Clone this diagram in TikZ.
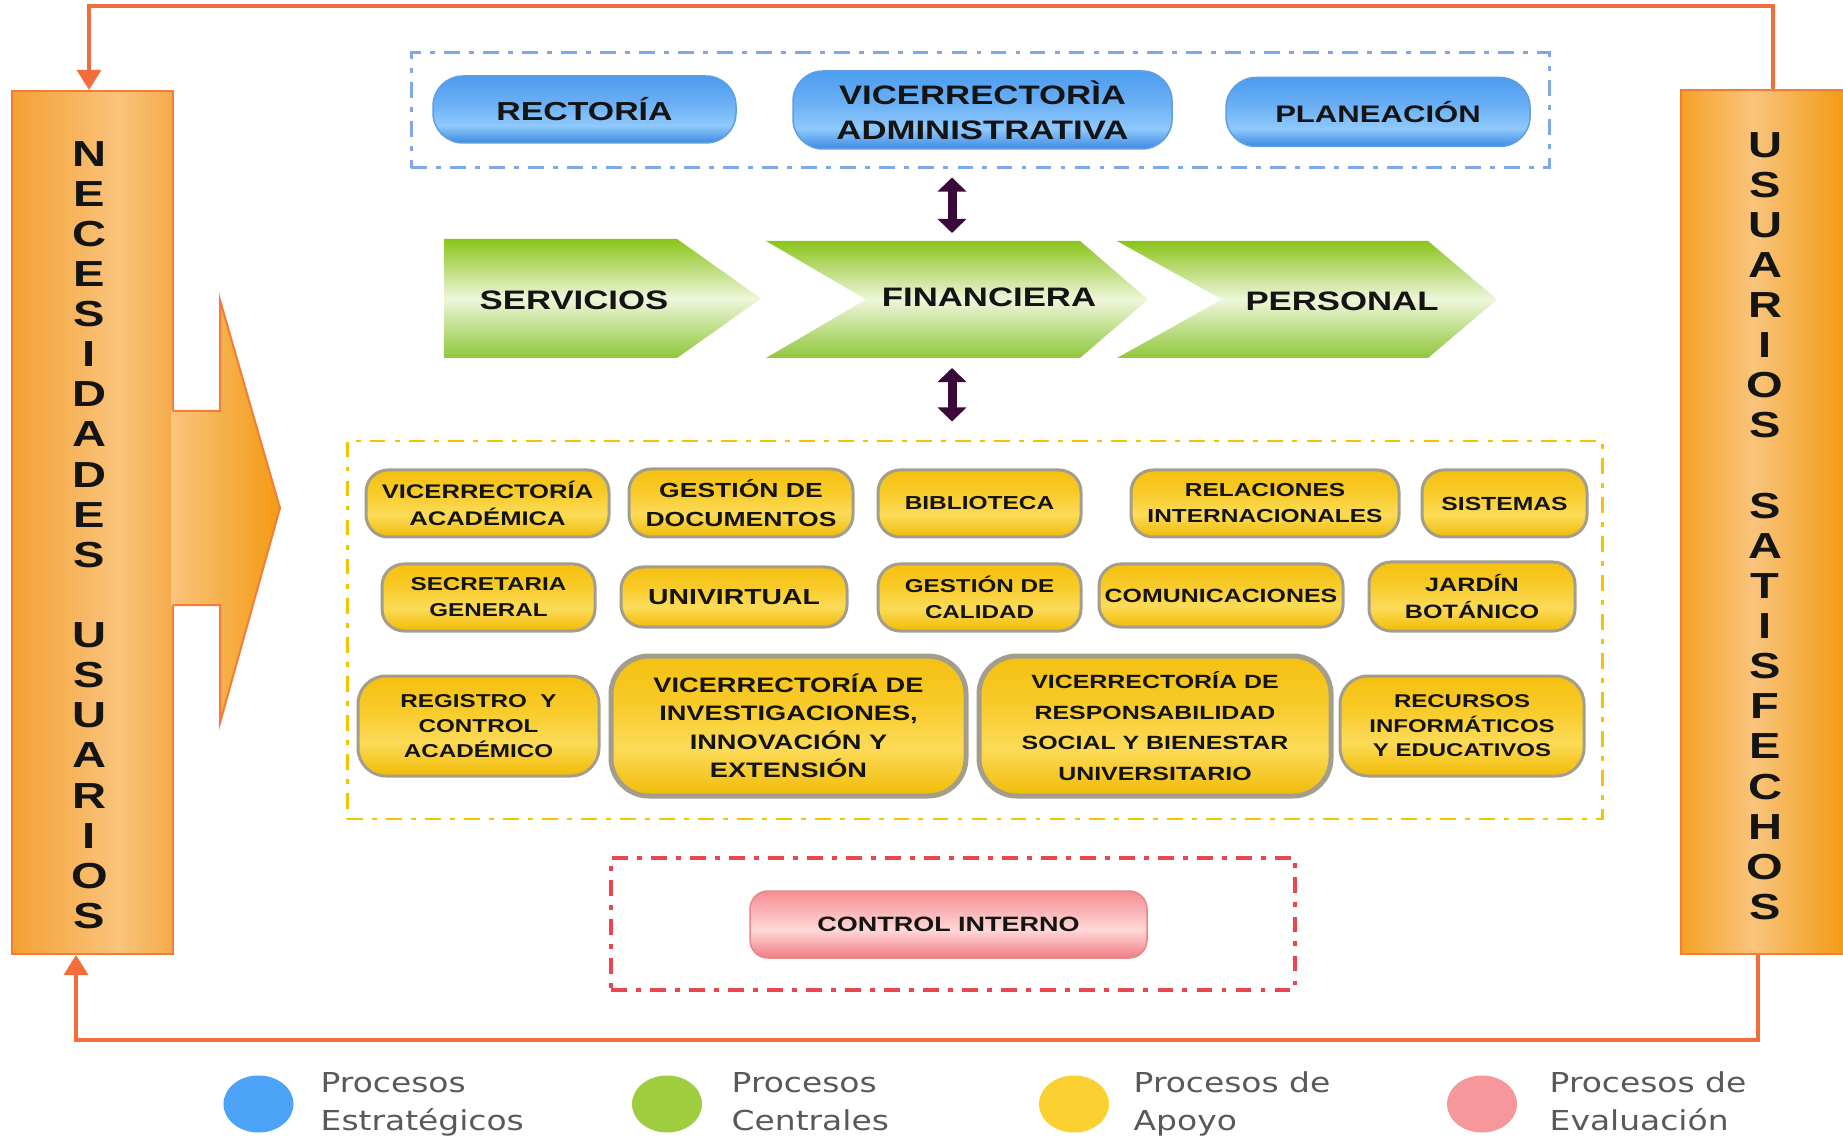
\documentclass[tikz,border=0pt]{standalone}
\usepackage{fontspec}
\setmainfont{Liberation Sans}
\newfontfamily\wf[FakeStretch=1.3]{Liberation Sans}
\newfontfamily\lf[FakeStretch=1.2]{DejaVu Sans}
\usetikzlibrary{arrows.meta,shapes.geometric}
\newlength\pxu \setlength\pxu{0.01cm}
\newcommand\setfs[2]{\fontsize{#1pt}{#2pt}\selectfont}
% colours
\definecolor{txt}{HTML}{141414}
\definecolor{orline}{HTML}{F26C3C}
\definecolor{purp}{HTML}{3A0B3A}
\definecolor{oA}{HTML}{F4A033}
\definecolor{oB}{HTML}{F9C47C}
\definecolor{oC}{HTML}{F5AA48}
\definecolor{rA}{HTML}{F5A226}
\definecolor{rB}{HTML}{F8C47C}
\definecolor{rC}{HTML}{F39A12}
\definecolor{bB}{HTML}{3C89E2}
\definecolor{bL}{HTML}{8FC9FC}
\definecolor{bM}{HTML}{6AAFF5}
\definecolor{bT}{HTML}{4D9CEF}
\definecolor{bbd}{HTML}{5E9EE2}
\definecolor{gB}{HTML}{90C73A}
\definecolor{gL}{HTML}{EEF6DA}
\definecolor{gT}{HTML}{8AC41A}
\definecolor{yB}{HTML}{F1BB06}
\definecolor{yL}{HTML}{FCDB58}
\definecolor{yM}{HTML}{F8CB2A}
\definecolor{yT}{HTML}{F5C010}
\definecolor{ybd}{HTML}{A39E8C}
\definecolor{pB}{HTML}{EF7C82}
\definecolor{pL}{HTML}{FFD8D8}
\definecolor{pT}{HTML}{F58E93}
\definecolor{pbd}{HTML}{E9858B}
\definecolor{dashblue}{HTML}{7FA8E8}
\definecolor{dashyel}{HTML}{F2C500}
\definecolor{dashred}{HTML}{E8474F}
\definecolor{legblue}{HTML}{4DA3F7}
\definecolor{leggreen}{HTML}{9FCD3F}
\definecolor{legyel}{HTML}{FAD130}
\definecolor{legpink}{HTML}{F5979B}
\definecolor{leggray}{HTML}{595959}
% shadings
\pgfdeclarehorizontalshading{lboxsh}{100bp}{color(0bp)=(oA); color(25bp)=(oA); color(58bp)=(oB); color(75bp)=(oC); color(100bp)=(oC)}
\pgfdeclarehorizontalshading{rboxsh}{100bp}{color(0bp)=(rA); color(25bp)=(rA); color(47bp)=(rB); color(75bp)=(rC); color(100bp)=(rC)}
\pgfdeclareverticalshading{bluesh}{100bp}{color(0bp)=(bB); color(25bp)=(bB); color(38bp)=(bL); color(55bp)=(bM); color(75bp)=(bT); color(100bp)=(bT)}
\pgfdeclareverticalshading{greensh}{100bp}{color(0bp)=(gB); color(25bp)=(gB); color(50bp)=(gL); color(75bp)=(gT); color(100bp)=(gT)}
\pgfdeclareverticalshading{yelsh}{100bp}{color(0bp)=(yB); color(25bp)=(yB); color(42bp)=(yL); color(58bp)=(yM); color(75bp)=(yT); color(100bp)=(yT)}
\pgfdeclareverticalshading{pinksh}{100bp}{color(0bp)=(pB); color(25bp)=(pB); color(46bp)=(pL); color(75bp)=(pT); color(100bp)=(pT)}

\begin{document}
\begin{tikzpicture}[x=0.01cm,y=-0.01cm,
  sidebox/.style={shade, draw=orline!70!oA, line width=2\pxu, inner sep=0pt},
  sidetext/.style={align=center, inner sep=0pt, text=txt, font=\wf\bfseries\setfs{10.3}{11.41}},
  orpath/.style={draw=orline, line width=1pt, -{Triangle[length=5.7pt,width=6.8pt]}},
  dbl/.style={draw=purp, line width=2.56pt, {Triangle[length=4pt,width=8pt]}-{Triangle[length=4pt,width=8pt]}},
  dashbox/.style={inner sep=0pt, line width=0.85pt, dash pattern=on 4.5pt off 2.6pt on 1.4pt off 2.6pt},
  bnode/.style={shade, shading=bluesh, draw=bbd, line width=1.5\pxu, rounded corners=30\pxu, align=center, inner sep=0pt, text=txt},
  ynode/.style={shade, shading=yelsh, draw=ybd, line width=3\pxu, rounded corners=22\pxu, align=center, inner sep=0pt, text=txt},
  pnode/.style={shade, shading=pinksh, draw=pbd, line width=1.5\pxu, rounded corners=18\pxu, align=center, inner sep=0pt, text=txt},
  chev/.style={shade, shading=greensh},
  chevtext/.style={inner sep=0pt, text=txt, font=\wf\bfseries\setfs{7.6}{9}},
  legdot/.style={ellipse, inner sep=0pt, minimum width=70\pxu, minimum height=57\pxu},
  legtext/.style={anchor=west, align=left, inner sep=0pt, text=leggray, font=\lf\setfs{7.8}{10.8}}
]
\useasboundingbox (0,0) rectangle (1843,1137);
\fill[white] (0,0) rectangle (1843,1137);

% ---------- side boxes ----------
\node[sidebox, shading=lboxsh, minimum width=161\pxu, minimum height=863\pxu] (lb) at (92.5,522.5) {};
\shade[left color=oB, right color=rC] (171,411) -- (220,411) -- (220,300) -- (280,508) -- (220,723) -- (220,605) -- (171,605) -- cycle;
\draw[draw=orline!70!oA, line width=2\pxu] (173,411) -- (220,411) -- (220,300) -- (280,508) -- (220,723) -- (220,605) -- (173,605);
\node[sidetext] (ltxt) at (89.5,535) {N\\E\\C\\E\\S\\I\\D\\A\\D\\E\\S\\[11.41pt]U\\S\\U\\A\\R\\I\\O\\S};

\node[sidebox, shading=rboxsh, minimum width=165\pxu, minimum height=864\pxu] (rb) at (1763.5,522) {};
\node[sidetext] (rtxt) at (1765,526) {U\\S\\U\\A\\R\\I\\O\\S\\[11.41pt]S\\A\\T\\I\\S\\F\\E\\C\\H\\O\\S};

% ---------- feedback loop ----------
\coordinate (tr) at (1773,6);
\coordinate (tl) at (89,6);
\coordinate (br) at (1758,1040);
\coordinate (bl) at (76,1040);
\draw[orpath] (rb.north -| tr) -- (tr) -- (tl) -- (lb.north -| tl);
\draw[orpath] (rb.south -| br) -- (br) -- (bl) -- (lb.south -| bl);

% ---------- strategic ----------
\node[dashbox, draw=dashblue, minimum width=1138\pxu, minimum height=115\pxu] (strat) at (980,110.5) {};
\node[bnode, minimum width=303\pxu, minimum height=67\pxu, font=\wf\bfseries\setfs{7.4}{9}] (rect) at (584.5,109.5) {RECTORÍA};
\node[bnode, minimum width=379\pxu, minimum height=78\pxu, font=\wf\bfseries\setfs{7.6}{10}] (vadm) at (982.5,110) {VICERRECTORÌA\\ADMINISTRATIVA};
\node[bnode, minimum width=304\pxu, minimum height=69\pxu, font=\wf\bfseries\setfs{6.8}{9}] (plan) at (1378,112) {PLANEACIÓN};

% ---------- central ----------
\shade[chev] (444,239) -- (677,239) -- (761,298.5) -- (677,358) -- (444,358) -- cycle;
\shade[chev] (766,241) -- (1080,241) -- (1148,299.5) -- (1080,358) -- (766,358) -- (866,299.5) -- cycle;
\shade[chev] (1117,241) -- (1428,241) -- (1497,299.5) -- (1428,358) -- (1117,358) -- (1222,299.5) -- cycle;
\node[chevtext] (serv) at (574,300.5) {SERVICIOS};
\node[chevtext] (fin) at (989,297) {FINANCIERA};
\node[chevtext] (pers) at (1342,301.5) {PERSONAL};
\coordinate (ax) at (952,0);
\coordinate (fintop) at (952,241);
\coordinate (finbot) at (952,358);

% ---------- support ----------
\node[dashbox, draw=dashyel, minimum width=1255\pxu, minimum height=378\pxu] (supp) at (974.5,630) {};
\draw[dbl, shorten <=8\pxu, shorten >=8\pxu] (strat.south -| ax) -- (fintop);
\draw[dbl, shorten <=10\pxu, shorten >=18\pxu] (finbot) -- (supp.north -| ax);

\node[ynode, minimum width=243\pxu, minimum height=67\pxu, font=\wf\bfseries\setfs{5.6}{7.7}] (va) at (487.5,503.5) {VICERRECTORÍA\\ACADÉMICA};
\node[ynode, minimum width=224\pxu, minimum height=68\pxu, font=\wf\bfseries\setfs{5.8}{8}] (gd) at (741,503) {GESTIÓN DE\\DOCUMENTOS};
\node[ynode, minimum width=203\pxu, minimum height=67\pxu, font=\wf\bfseries\setfs{5.35}{7.4}] (bib) at (979.5,503.5) {BIBLIOTECA};
\node[ynode, minimum width=268\pxu, minimum height=67\pxu, font=\wf\bfseries\setfs{5.35}{7.4}] (ri) at (1265,503.5) {RELACIONES\\INTERNACIONALES};
\node[ynode, minimum width=165\pxu, minimum height=67\pxu, font=\wf\bfseries\setfs{5.4}{7.4}] (sis) at (1504.5,503.5) {SISTEMAS};

\node[ynode, minimum width=213\pxu, minimum height=67\pxu, font=\wf\bfseries\setfs{5.3}{7.4}] (sg) at (488.5,597.5) {SECRETARIA\\GENERAL};
\node[ynode, minimum width=226\pxu, minimum height=60\pxu, font=\wf\bfseries\setfs{6.2}{8}] (uni) at (734,597) {UNIVIRTUAL};
\node[ynode, minimum width=203\pxu, minimum height=67\pxu, font=\wf\bfseries\setfs{5.3}{7.4}] (gc) at (979.5,597.5) {GESTIÓN DE\\CALIDAD};
\node[ynode, minimum width=244\pxu, minimum height=63\pxu, font=\wf\bfseries\setfs{5.45}{7.4}] (com) at (1221,595.5) {COMUNICACIONES};
\node[ynode, minimum width=206\pxu, minimum height=69\pxu, font=\wf\bfseries\setfs{5.5}{7.7}] (jb) at (1472,596.5) {JARDÍN\\BOTÁNICO};

\node[ynode, rounded corners=28\pxu, minimum width=241\pxu, minimum height=100\pxu, font=\wf\bfseries\setfs{5.3}{7.2}] (rca) at (478.5,726) {REGISTRO\ \ Y\\CONTROL\\ACADÉMICO};
\node[ynode, rounded corners=38\pxu, line width=5\pxu, minimum width=355\pxu, minimum height=140\pxu, font=\wf\bfseries\setfs{5.95}{8.1}] (vi) at (788.5,726) {VICERRECTORÍA DE\\INVESTIGACIONES,\\INNOVACIÓN Y\\EXTENSIÓN};
\node[ynode, rounded corners=38\pxu, line width=5\pxu, minimum width=352\pxu, minimum height=140\pxu, font=\wf\bfseries\setfs{5.45}{8.7}] (vr) at (1155,726) {VICERRECTORÍA DE\\RESPONSABILIDAD\\SOCIAL Y BIENESTAR\\UNIVERSITARIO};
\node[ynode, rounded corners=28\pxu, minimum width=244\pxu, minimum height=100\pxu, font=\wf\bfseries\setfs{5.25}{7}] (rie) at (1462,726) {RECURSOS\\INFORMÁTICOS\\Y EDUCATIVOS};

% ---------- evaluation ----------
\node[dashbox, draw=dashred, line width=1pt, minimum width=684\pxu, minimum height=132\pxu] (evalbox) at (953,924) {};
\node[pnode, minimum width=397\pxu, minimum height=67\pxu, font=\wf\bfseries\setfs{5.9}{7.4}] (ci) at (948.5,924.5) {CONTROL INTERNO};

% ---------- legend ----------
\node[legdot, fill=legblue] (c1) at (258.5,1104) {};
\node[legtext] (t1) at (320,1104) {Procesos\\Estratégicos};
\node[legdot, fill=leggreen] (c2) at (667,1104) {};
\node[legtext] (t2) at (731,1104) {Procesos\\Centrales\vphantom{g}};
\node[legdot, fill=legyel] (c3) at (1074,1104) {};
\node[legtext] (t3) at (1133,1104) {Procesos de\\Apoyo};
\node[legdot, fill=legpink] (c4) at (1482,1104) {};
\node[legtext] (t4) at (1549,1104) {Procesos de\\Evaluación\vphantom{g}};
\end{tikzpicture}
\end{document}
